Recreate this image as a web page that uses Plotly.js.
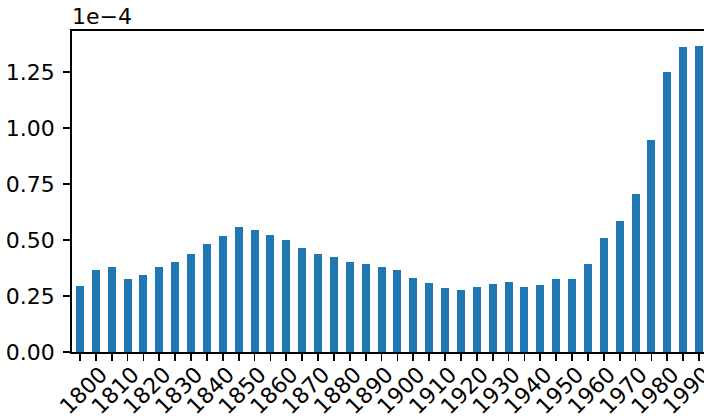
<!DOCTYPE html>
<html>
<head>
<meta charset="utf-8">
<script src="https://cdn.plot.ly/plotly-3.0.1.min.js"></script>
<style>
  html, body { margin: 0; padding: 0; background: #fff; overflow: hidden; }
  #chart { width: 720px; height: 420px; }
</style>
</head>
<body>
<div id="chart"></div>
<script>
// Five-year periods, 1800–1995
const years = [
  1800, 1805, 1810, 1815, 1820, 1825, 1830, 1835, 1840, 1845,
  1850, 1855, 1860, 1865, 1870, 1875, 1880, 1885, 1890, 1895,
  1900, 1905, 1910, 1915, 1920, 1925, 1930, 1935, 1940, 1945,
  1950, 1955, 1960, 1965, 1970, 1975, 1980, 1985, 1990, 1995
];

// Value per period
const values = [
  0.295e-4, 0.368e-4, 0.380e-4, 0.325e-4, 0.345e-4, 0.378e-4, 0.404e-4, 0.439e-4, 0.481e-4, 0.520e-4,
  0.557e-4, 0.546e-4, 0.521e-4, 0.499e-4, 0.464e-4, 0.439e-4, 0.426e-4, 0.404e-4, 0.392e-4, 0.378e-4,
  0.365e-4, 0.330e-4, 0.308e-4, 0.286e-4, 0.279e-4, 0.289e-4, 0.305e-4, 0.311e-4, 0.292e-4, 0.301e-4,
  0.325e-4, 0.328e-4, 0.393e-4, 0.511e-4, 0.587e-4, 0.704e-4, 0.948e-4, 1.250e-4, 1.360e-4, 1.366e-4
];

// Tick labels: every bar gets a tick, every decade gets a label
const xTickText = years.map(y => (y % 10 === 0 ? String(y) : ''));

const yTickVals = [0, 0.25e-4, 0.50e-4, 0.75e-4, 1.00e-4, 1.25e-4];
const yTickText = ['0.00', '0.25', '0.50', '0.75', '1.00', '1.25'];
const offsetLabel = '1e\u22124';

const font = { family: 'DejaVu Sans, sans-serif', size: 22, color: '#000' };

const trace = {
  type: 'bar',
  x: years,
  y: values,
  width: 2.5,
  marker: { color: '#1f77b4', line: { width: 0 } },
  hoverinfo: 'x+y'
};

const layout = {
  width: 720,
  height: 420,
  margin: { l: 72, r: 13, t: 31, b: 68 },
  paper_bgcolor: '#fff',
  plot_bgcolor: '#fff',
  font: font,
  showlegend: false,
  bargap: 0,
  xaxis: {
    range: [1797.5, 1997.5],
    tickmode: 'array',
    tickvals: years,
    ticktext: xTickText,
    tickangle: -45,
    ticklabelshift: 21,
    ticklabelstandoff: -8,
    ticks: 'outside',
    ticklen: 7,
    tickwidth: 1.8,
    tickcolor: '#000',
    showline: true,
    linecolor: '#000',
    linewidth: 1.8,
    mirror: true,
    showgrid: false,
    zeroline: false,
    tickfont: font
  },
  yaxis: {
    range: [0, 1.433e-4],
    tickmode: 'array',
    tickvals: yTickVals,
    ticktext: yTickText,
    ticklabelstandoff: 4,
    ticks: 'outside',
    ticklen: 7,
    tickwidth: 1.8,
    tickcolor: '#000',
    showline: true,
    linecolor: '#000',
    linewidth: 1.8,
    mirror: true,
    showgrid: false,
    zeroline: false,
    tickfont: font
  },
  annotations: [{
    text: offsetLabel,
    xref: 'paper', yref: 'paper',
    x: 0, y: 1,
    xanchor: 'left', yanchor: 'bottom',
    xshift: -2,
    yshift: 0,
    showarrow: false,
    font: font
  }]
};

Plotly.newPlot('chart', [trace], layout, { displayModeBar: false, staticPlot: true });
</script>
</body>
</html>
